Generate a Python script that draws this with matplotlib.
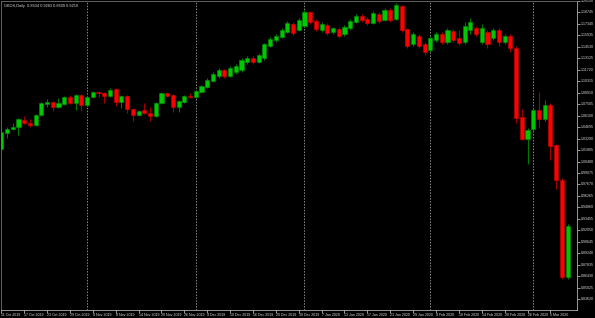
import numpy as np
import matplotlib
matplotlib.use("Agg")
import matplotlib.pyplot as plt
from matplotlib.ticker import FixedLocator

# daily OHLC, 11 Oct 2019 .. 10 Mar 2020 (100 bars)
opens = [1.0202, 1.0398, 1.0447, 1.0471, 1.0557, 1.0520, 1.0496, 1.0618, 1.0753, 1.0778,
         1.0716, 1.0753, 1.0839, 1.0765, 1.0863, 1.0741, 1.0839, 1.0900, 1.0888, 1.0851,
         1.0937, 1.0778, 1.0851, 1.0692, 1.0618, 1.0680, 1.0643, 1.0606, 1.0765, 1.0888,
         1.0863, 1.0716, 1.0778, 1.0851, 1.0839, 1.0900, 1.0961, 1.1035, 1.1096, 1.1170,
         1.1096, 1.1145, 1.1170, 1.1268, 1.1317, 1.1268, 1.1317, 1.1463, 1.1537, 1.1574,
         1.1635, 1.1733, 1.1660, 1.1709, 1.1880, 1.1770, 1.1660, 1.1721, 1.1635, 1.1672,
         1.1610, 1.1684, 1.1758, 1.1831, 1.1794, 1.1745, 1.1856, 1.1782, 1.1905, 1.1794,
         1.1954, 1.1672, 1.1488, 1.1586, 1.1488, 1.1415, 1.1537, 1.1610, 1.1512, 1.1647,
         1.1561, 1.1512, 1.1660, 1.1684, 1.1512, 1.1635, 1.1561, 1.1660, 1.1512, 1.1586,
         1.1439, 1.0594, 1.0324, 1.0447, 1.0680, 1.0569, 1.0741, 1.0251, 0.9822, 0.8634]
highs = [1.0459, 1.0471, 1.0520, 1.0582, 1.0606, 1.0569, 1.0631, 1.0778, 1.0814, 1.0790,
         1.0827, 1.0851, 1.0863, 1.0876, 1.0876, 1.0851, 1.0912, 1.0912, 1.0900, 1.0949,
         1.0949, 1.0863, 1.0863, 1.0704, 1.0680, 1.0765, 1.0716, 1.0778, 1.0900, 1.0900,
         1.0876, 1.0802, 1.0863, 1.0888, 1.0925, 1.0986, 1.1072, 1.1145, 1.1194, 1.1182,
         1.1219, 1.1243, 1.1317, 1.1341, 1.1341, 1.1378, 1.1500, 1.1574, 1.1610, 1.1684,
         1.1770, 1.1758, 1.1807, 1.1905, 1.1892, 1.1794, 1.1758, 1.1745, 1.1696, 1.1696,
         1.1721, 1.1794, 1.1856, 1.1856, 1.1819, 1.1892, 1.1880, 1.1929, 1.1929, 1.1990,
         1.1966, 1.1684, 1.1635, 1.1610, 1.1512, 1.1586, 1.1635, 1.1635, 1.1684, 1.1672,
         1.1660, 1.1758, 1.1807, 1.1709, 1.1733, 1.1660, 1.1684, 1.1684, 1.1610, 1.1610,
         1.1463, 1.0692, 1.0459, 1.0704, 1.0900, 1.0802, 1.0765, 1.0263, 0.9847, 0.9283]
lows = [1.0190, 1.0337, 1.0435, 1.0373, 1.0508, 1.0471, 1.0484, 1.0606, 1.0716, 1.0667,
        1.0704, 1.0741, 1.0753, 1.0680, 1.0667, 1.0729, 1.0827, 1.0839, 1.0765, 1.0839,
        1.0729, 1.0704, 1.0643, 1.0545, 1.0606, 1.0631, 1.0545, 1.0594, 1.0753, 1.0839,
        1.0655, 1.0655, 1.0765, 1.0827, 1.0827, 1.0888, 1.0949, 1.1023, 1.1072, 1.1072,
        1.1084, 1.1121, 1.1145, 1.1243, 1.1243, 1.1255, 1.1292, 1.1451, 1.1512, 1.1561,
        1.1623, 1.1598, 1.1647, 1.1696, 1.1733, 1.1647, 1.1635, 1.1598, 1.1610, 1.1561,
        1.1586, 1.1660, 1.1745, 1.1758, 1.1721, 1.1733, 1.1745, 1.1770, 1.1758, 1.1782,
        1.1635, 1.1439, 1.1463, 1.1439, 1.1353, 1.1390, 1.1512, 1.1488, 1.1488, 1.1512,
        1.1476, 1.1488, 1.1610, 1.1586, 1.1488, 1.1439, 1.1537, 1.1463, 1.1488, 1.1390,
        1.0520, 1.0312, 1.0018, 1.0422, 1.0459, 1.0545, 1.0067, 0.9712, 0.8609, 0.8609]
closes = [1.0410, 1.0447, 1.0471, 1.0569, 1.0520, 1.0496, 1.0618, 1.0765, 1.0778, 1.0716,
          1.0765, 1.0839, 1.0765, 1.0863, 1.0741, 1.0839, 1.0900, 1.0888, 1.0851, 1.0925,
          1.0778, 1.0851, 1.0692, 1.0618, 1.0667, 1.0643, 1.0606, 1.0765, 1.0888, 1.0851,
          1.0716, 1.0790, 1.0851, 1.0839, 1.0912, 1.0974, 1.1047, 1.1121, 1.1170, 1.1096,
          1.1194, 1.1219, 1.1292, 1.1317, 1.1268, 1.1353, 1.1488, 1.1549, 1.1586, 1.1660,
          1.1745, 1.1623, 1.1782, 1.1880, 1.1758, 1.1672, 1.1733, 1.1623, 1.1684, 1.1586,
          1.1696, 1.1770, 1.1831, 1.1782, 1.1745, 1.1868, 1.1770, 1.1905, 1.1782, 1.1966,
          1.1660, 1.1463, 1.1610, 1.1463, 1.1390, 1.1561, 1.1610, 1.1512, 1.1660, 1.1537,
          1.1500, 1.1709, 1.1758, 1.1610, 1.1684, 1.1488, 1.1660, 1.1512, 1.1586, 1.1439,
          1.0582, 1.0324, 1.0435, 1.0680, 1.0569, 1.0741, 1.0239, 0.9822, 0.8634, 0.9259]

date_labels = ["11 Oct 2019", "17 Oct 2019", "23 Oct 2019", "29 Oct 2019", "4 Nov 2019",
               "8 Nov 2019", "14 Nov 2019", "20 Nov 2019", "26 Nov 2019", "4 Dec 2019",
               "10 Dec 2019", "16 Dec 2019", "20 Dec 2019", "30 Dec 2019", "7 Jan 2020",
               "13 Jan 2020", "17 Jan 2020", "23 Jan 2020", "29 Jan 2020", "4 Feb 2020",
               "10 Feb 2020", "14 Feb 2020", "20 Feb 2020", "26 Feb 2020", "5 Mar 2020"]
month_start_bars = [15, 34, 53, 75, 93]
price_ticks = [round(1.20150 - 0.01405 * k, 5) for k in range(27)]

symbol = "GBOS,Daily"

plt.rcParams["font.family"] = ["Liberation Sans Narrow", "Liberation Sans", "DejaVu Sans"]

BG = "#000000"
FG = "#d8d8d8"
GRID = "#8c8c8c"
BULL, BULL_EDGE, BULL_WICK = "#00c800", "#009000", "#007800"
BEAR, BEAR_EDGE, BEAR_WICK = "#ff0000", "#c80000", "#a00000"

o = np.array(opens)
h = np.array(highs)
l = np.array(lows)
c = np.array(closes)
x = np.arange(len(o))
up = c >= o

fig = plt.figure(figsize=(5.95, 3.18), dpi=100, facecolor=BG)
ax = fig.add_axes([1 / 595, 8 / 318, 576 / 595, 309 / 318])
ax.set_facecolor(BG)

# month separators
for b in month_start_bars:
    ax.axvline(b, color=GRID, lw=0.7, ls=(0, (1.5, 1.5)), zorder=1)

# wicks
ax.vlines(x[up], l[up], h[up], color=BULL_WICK, lw=0.8, zorder=2)
ax.vlines(x[~up], l[~up], h[~up], color=BEAR_WICK, lw=0.8, zorder=2)

# bodies
body_lo = np.minimum(o, c)
body_h = np.maximum(np.abs(c - o), 0.0008)
ax.bar(x[up], body_h[up], bottom=body_lo[up], width=0.72,
       color=BULL, edgecolor=BULL_EDGE, lw=0.4, zorder=3)
ax.bar(x[~up], body_h[~up], bottom=body_lo[~up], width=0.72,
       color=BEAR, edgecolor=BEAR_EDGE, lw=0.4, zorder=3)

ax.set_xlim(-0.05, 100.65)
ax.set_ylim(0.8229, 1.2015)

# price axis on the right
ax.yaxis.tick_right()
ax.yaxis.set_major_locator(FixedLocator(price_ticks))
ax.set_yticklabels([f"{p:.5f}" for p in price_ticks])
ax.tick_params(axis="y", colors=FG, labelsize=2.6, length=2, width=0.5, pad=0.8)
for lab in ax.get_yticklabels():
    lab.set_va("center")

# date axis
ax.set_xticks(x[::4])
ax.set_xticklabels(date_labels, ha="left")
ax.tick_params(axis="x", colors=FG, labelsize=2.6, length=2, width=0.5, pad=0.5)

for side in ["left", "top"]:
    ax.spines[side].set_color("#707070")
    ax.spines[side].set_linewidth(0.6)
for side in ["right", "bottom"]:
    ax.spines[side].set_color("#b0b0b0")
    ax.spines[side].set_linewidth(0.6)

header = f"{symbol}  {o[-1]:.4f} {h[-1]:.4f} {l[-1]:.4f} {c[-1]:.4f}"
ax.text(0.006, 0.99, header, transform=ax.transAxes, ha="left", va="top",
        color=FG, fontsize=2.8)

fig.savefig("out.png", dpi=100, facecolor=BG)
plt.close(fig)
